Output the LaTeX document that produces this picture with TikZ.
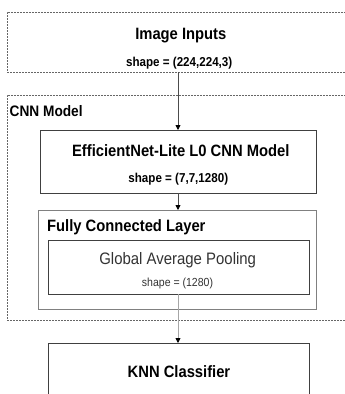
\documentclass[tikz,border=0pt]{standalone}
\usepackage{fontspec}
\setmainfont{Liberation Sans}
\newfontfamily\narrowsans[FakeStretch=0.9]{Liberation Sans}
\usetikzlibrary{arrows.meta}
\begin{document}
\begin{tikzpicture}[x=1pt,y=-1pt,
  title/.style={font=\narrowsans\bfseries\fontsize{16.4}{18}\selectfont, inner sep=0pt, anchor=base},
  subtitle/.style={font=\narrowsans\bfseries\fontsize{12.9}{14}\selectfont, inner sep=0pt, anchor=base},
  plaintitle/.style={font=\narrowsans\fontsize{16.6}{18}\selectfont, text=black!80, inner sep=0pt, anchor=base},
  plainshape/.style={font=\narrowsans\fontsize{11.7}{13}\selectfont, text=black!80, inner sep=0pt, anchor=base},
  dashbox/.style={draw=black!60, line width=0.7pt, dash pattern=on 2pt off 1pt, inner sep=0pt, outer sep=0pt},
  solidbox/.style={draw=black!75, line width=0.9pt, fill=white, inner sep=0pt, outer sep=0pt},
  fcbox/.style={draw=black!50, line width=1pt, fill=white, inner sep=0pt, outer sep=0pt},
  arr/.style={draw=black!70, line width=0.8pt, -{Triangle[length=5pt, width=5pt, color=black]}},
]
\useasboundingbox (0,0) rectangle (345,394);
\clip (0,0) rectangle (345,394);
\fill[white] (0,0) rectangle (345,394);

% frames
\node[dashbox, minimum width=360, minimum height=60] (inbox) at (187,42) {};
\node[dashbox, minimum width=360, minimum height=225] (cnnbox) at (187,207.5) {};
\node[solidbox, minimum width=276, minimum height=63] (eff) at (178,161.5) {};
\node[fcbox, minimum width=278, minimum height=99] (fc) at (177,259.5) {};
\node[solidbox, minimum width=261, minimum height=54] (gap) at (178.5,267) {};
\node[solidbox, minimum width=261, minimum height=80] (knn) at (178.5,383) {};

% labels
\node[title] (intitle) at (180.8,39.5) {Image Inputs};
\node[subtitle] (inshape) at (179.2,66) {shape = (224,224,3)};
\node[title, font=\narrowsans\bfseries\fontsize{15.2}{17}\selectfont, anchor=base west] (cnnlabel) at (9.5,116) {CNN Model};
\node[title] (efftitle) at (180.8,156.7) {EfficientNet-Lite L0 CNN Model};
\node[subtitle] (effshape) at (178.3,182.7) {shape = (7,7,1280)};
\node[title, anchor=base west] (fctitle) at (47,231) {Fully Connected Layer};
\node[plaintitle] (gaptitle) at (177.7,264.3) {Global Average Pooling};
\node[plainshape] (gapshape) at (177.5,286) {shape = (1280)};
\node[title] (knntitle) at (179,377.7) {KNN Classifier};

% connectors
\draw[arr] (inbox.south -| eff.north) -- (eff.north);
\draw[arr] (eff.south) -- (eff.south |- fc.north);
\draw[arr, draw=black!35] (eff.south |- gap.south) -- (eff.south |- knn.north);
\end{tikzpicture}
\end{document}
